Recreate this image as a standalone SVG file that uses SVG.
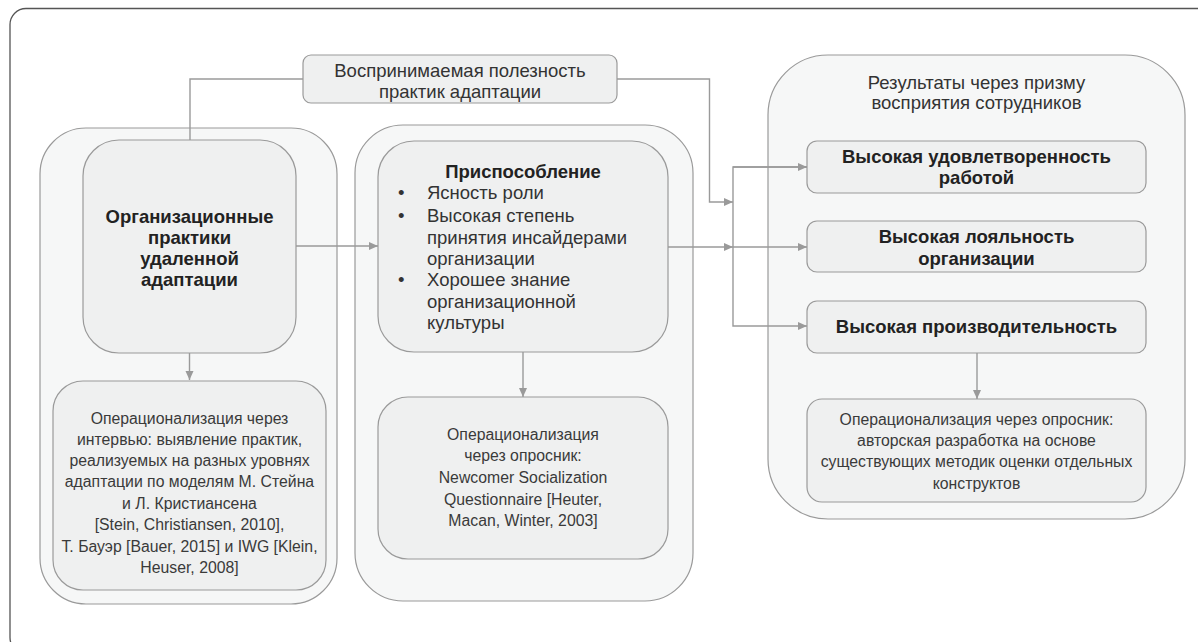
<svg xmlns="http://www.w3.org/2000/svg" width="1198" height="642" viewBox="0 0 1198 642">
<style>
.frame{fill:#ffffff;stroke:#555555;stroke-width:1.3}
.outer{fill:#f6f7f7;stroke:#9a9a9a;stroke-width:1.2}
.inner{fill:#eff0f0;stroke:#9a9a9a;stroke-width:1.2}
.conn{fill:none;stroke:#9a9a9a;stroke-width:1.4}
.t{font-family:"Liberation Sans",Arial,sans-serif;font-size:18.5px;fill:#333333}
.b{font-family:"Liberation Sans",Arial,sans-serif;font-size:18.5px;font-weight:bold;fill:#222222}
.s{font-family:"Liberation Sans",Arial,sans-serif;font-size:15.8px;fill:#3a3a3a}
.c{text-anchor:middle}
</style>
<defs>
<marker id="arr" markerUnits="userSpaceOnUse" markerWidth="10" markerHeight="10" refX="9" refY="4" orient="auto">
<path d="M0,0 L9,4 L0,8 Z" fill="#9a9a9a"/>
</marker>
</defs>
<rect class="frame" x="10" y="8.5" width="1220" height="645" rx="16"/>

<g id="left-group">
<rect class="outer" x="40" y="128" width="297" height="476" rx="46"/>
</g>
<g id="middle-group">
<rect class="outer" x="355" y="125" width="338" height="476" rx="48"/>
</g>
<g id="results-group">
<rect class="outer" x="768" y="55" width="417" height="464" rx="60"/>
<text class="t c" x="976.5" y="89">Результаты через призму</text>
<text class="t c" x="976.5" y="109">восприятия сотрудников</text>
</g>

<g id="connectors">
<path class="conn" d="M303,79 H190 V140"/>
<path class="conn" d="M617,79 H709.5 V202 H733" marker-end="url(#arr)"/>
<path class="conn" d="M296,246 H378" marker-end="url(#arr)"/>
<path class="conn" d="M668,247 H733" marker-end="url(#arr)"/>
<path class="conn" d="M733,247 H807" marker-end="url(#arr)"/>
<path class="conn" d="M807,167 H733 V326 H807" marker-end="url(#arr)"/>
<path class="conn" d="M733,167 H807" marker-end="url(#arr)"/>
<path class="conn" d="M189.5,353 V380" marker-end="url(#arr)"/>
<path class="conn" d="M523,352 V397" marker-end="url(#arr)"/>
<path class="conn" d="M977,353 V399" marker-end="url(#arr)"/>
</g>

<g id="usefulness">
<rect class="inner" x="303" y="55" width="314" height="48" rx="8"/>
<text class="t c" x="460" y="77">Воспринимаемая полезность</text>
<text class="t c" x="460" y="98">практик адаптации</text>
</g>

<g id="practices">
<rect class="inner" x="83" y="140" width="213" height="213" rx="36"/>
<text class="b c" x="189.5" y="223">Организационные</text>
<text class="b c" x="189.5" y="244">практики</text>
<text class="b c" x="189.5" y="265">удаленной</text>
<text class="b c" x="189.5" y="286">адаптации</text>
</g>
<g id="practices-op">
<rect class="inner" x="53" y="381" width="273" height="209" rx="30"/>
<text class="s c" x="189.5" y="424">Операционализация через</text>
<text class="s c" x="189.5" y="444.5">интервью: выявление практик,</text>
<text class="s c" x="189.5" y="466">реализуемых на разных уровнях</text>
<text class="s c" x="189.5" y="487">адаптации по моделям М. Стейна</text>
<text class="s c" x="189.5" y="508.5">и Л. Кристиансена</text>
<text class="s c" x="189.5" y="530">[Stein, Christiansen, 2010],</text>
<text class="s c" x="189.5" y="551.5">Т. Бауэр [Bauer, 2015] и IWG [Klein,</text>
<text class="s c" x="189.5" y="573">Heuser, 2008]</text>
</g>

<g id="adjustment">
<rect class="inner" x="378" y="141" width="290" height="211" rx="36"/>
<text class="b c" x="523" y="178">Приспособление</text>
<text class="t" x="398" y="199">•</text>
<text class="t" x="427" y="199">Ясность роли</text>
<text class="t" x="398" y="222">•</text>
<text class="t" x="427" y="222">Высокая степень</text>
<text class="t" x="427" y="244">принятия инсайдерами</text>
<text class="t" x="427" y="265">организации</text>
<text class="t" x="398" y="286">•</text>
<text class="t" x="427" y="286">Хорошее знание</text>
<text class="t" x="427" y="308">организационной</text>
<text class="t" x="427" y="329">культуры</text>
</g>
<g id="adjustment-op">
<rect class="inner" x="378" y="397" width="290" height="162" rx="30"/>
<text class="s c" x="523" y="439.5">Операционализация</text>
<text class="s c" x="523" y="460.5">через опросник:</text>
<text class="s c" x="523" y="482.5">Newcomer Socialization</text>
<text class="s c" x="523" y="504.5">Questionnaire [Heuter,</text>
<text class="s c" x="523" y="525.5">Macan, Winter, 2003]</text>
</g>

<g id="satisfaction">
<rect class="inner" x="807" y="141" width="339" height="52" rx="10"/>
<text class="b c" x="976.5" y="163">Высокая удовлетворенность</text>
<text class="b c" x="976.5" y="184">работой</text>
</g>
<g id="loyalty">
<rect class="inner" x="807" y="221" width="339" height="51" rx="10"/>
<text class="b c" x="976.5" y="243">Высокая лояльность</text>
<text class="b c" x="976.5" y="265">организации</text>
</g>
<g id="productivity">
<rect class="inner" x="807" y="301" width="339" height="52" rx="10"/>
<text class="b c" x="976.5" y="333">Высокая производительность</text>
</g>
<g id="results-op">
<rect class="inner" x="807" y="399" width="339" height="103" rx="15"/>
<text class="s c" x="976.5" y="424.5">Операционализация через опросник:</text>
<text class="s c" x="976.5" y="445.5">авторская разработка на основе</text>
<text class="s c" x="976.5" y="466.5">существующих методик оценки отдельных</text>
<text class="s c" x="976.5" y="488.5">конструктов</text>
</g>
</svg>
